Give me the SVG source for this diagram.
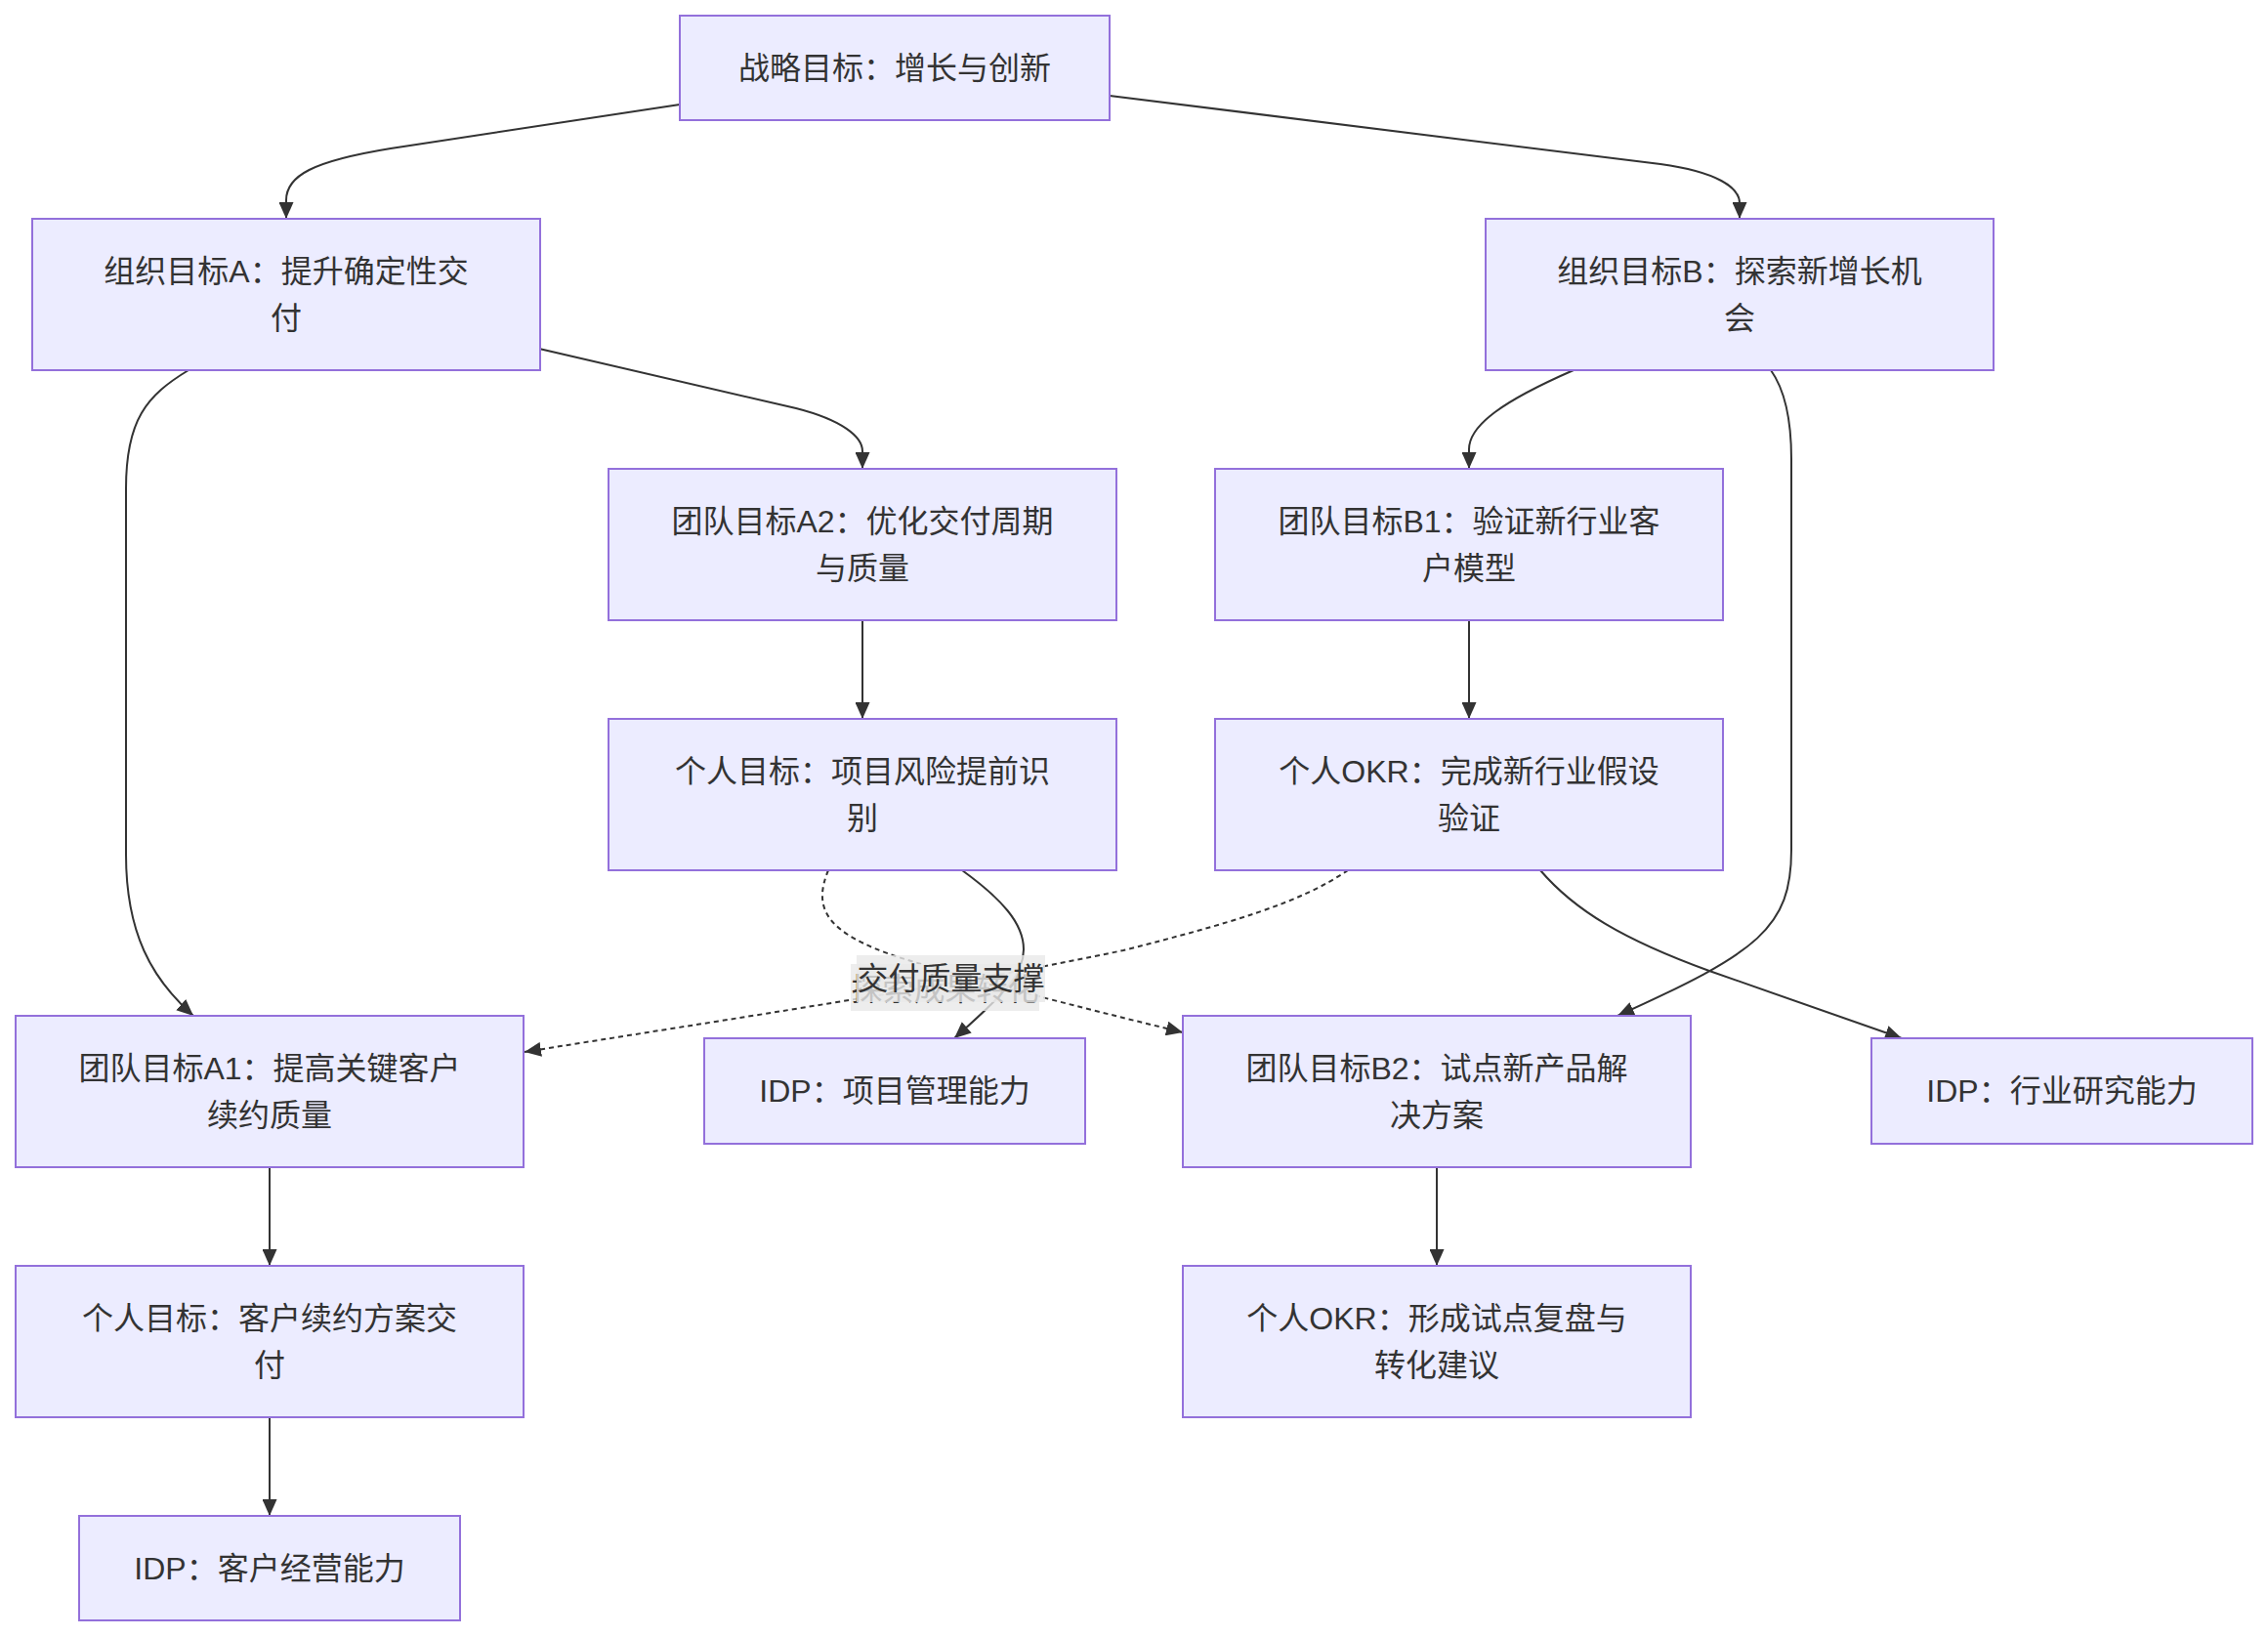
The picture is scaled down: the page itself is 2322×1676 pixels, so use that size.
<svg xmlns="http://www.w3.org/2000/svg" width="2322" height="1676" viewBox="0 0 2322 1676">
<style>
.node rect{fill:#ECECFF;stroke:#9370DB;stroke-width:2}
.node text{font-family:"Liberation Sans","Noto Sans CJK SC",sans-serif;font-size:32px;fill:#333;text-anchor:middle;dominant-baseline:central}
.edge{fill:none;stroke:#333;stroke-width:2}
.dot{stroke-dasharray:5 4}
.lbl rect{fill:rgba(232,232,232,0.8)}
.lbl text{font-family:"Liberation Sans","Noto Sans CJK SC",sans-serif;font-size:32px;fill:#333;text-anchor:middle;dominant-baseline:central}
</style>
<defs>
<marker id="arr" markerUnits="userSpaceOnUse" markerWidth="17" markerHeight="15" viewBox="0 0 17 15" refX="17" refY="7.5" orient="auto">
<path d="M0,0 L17,7.5 L0,15 z" fill="#333"/>
</marker>
</defs>
<rect width="2322" height="1676" fill="#fff"/>
<g id="connectors">
<path class="edge" marker-end="url(#arr)" d="M696,107 L400,152 C320,165 293,180 293,205 L293,224"/>
<path class="edge" marker-end="url(#arr)" d="M1136,98 L1700,168 C1758,176 1781,192 1781,208 L1781,224"/>
<path class="edge" marker-end="url(#arr)" d="M552,357 L815,418 C862,430 883,447 883,462 L883,480"/>
<path class="edge" marker-end="url(#arr)" d="M193,379 C150,405 129,430 129,500 L129,875 C129,955 155,1002 198,1040"/>
<path class="edge" marker-end="url(#arr)" d="M1611,379 C1540,410 1504,435 1504,460 L1504,480"/>
<path class="edge" marker-end="url(#arr)" d="M1813,379 C1828,400 1834,430 1834,470 L1834,870 C1834,950 1800,975 1656,1040"/>
<path class="edge" marker-end="url(#arr)" d="M883,635 L883,736"/>
<path class="edge" marker-end="url(#arr)" d="M1504,635 L1504,736"/>
<path class="edge" marker-end="url(#arr)" d="M985,891 C1025,920 1048,945 1048,972 C1048,995 1035,1012 977,1063"/>
<path class="edge dot" marker-end="url(#arr)" d="M848,891 C832,930 845,955 920,980 C990,1002 1100,1030 1211,1057"/>
<path class="edge dot" marker-end="url(#arr)" d="M1380,891 C1330,925 1260,945 1150,973 C1000,1005 800,1035 537,1077"/>
<path class="edge" marker-end="url(#arr)" d="M1577,891 C1612,932 1662,962 1750,994 L1947,1063"/>
<path class="edge" marker-end="url(#arr)" d="M276,1195 L276,1296"/>
<path class="edge" marker-end="url(#arr)" d="M276,1451 L276,1552"/>
<path class="edge" marker-end="url(#arr)" d="M1471,1195 L1471,1296"/>
</g>
<g id="edge-labels">
<g class="lbl" id="label-explore"><rect x="871" y="987" width="193" height="48"/><text x="967.5" y="1013">探索成果转化</text></g>
<g class="lbl" id="label-quality"><rect x="877" y="978" width="193" height="48"/><text x="973.5" y="1002">交付质量支撑</text></g>
</g>
<g id="strategy" class="node"><rect x="696" y="16" width="440" height="107"/><text x="916" y="69.5">战略目标：增长与创新</text></g>
<g id="orgA" class="node"><rect x="33" y="224" width="520" height="155"/><text x="293" y="278">组织目标A：提升确定性交</text><text x="293" y="326">付</text></g>
<g id="orgB" class="node"><rect x="1521" y="224" width="520" height="155"/><text x="1781" y="278">组织目标B：探索新增长机</text><text x="1781" y="326">会</text></g>
<g id="teamA2" class="node"><rect x="623" y="480" width="520" height="155"/><text x="883" y="534">团队目标A2：优化交付周期</text><text x="883" y="582">与质量</text></g>
<g id="teamB1" class="node"><rect x="1244" y="480" width="520" height="155"/><text x="1504" y="534">团队目标B1：验证新行业客</text><text x="1504" y="582">户模型</text></g>
<g id="personA2" class="node"><rect x="623" y="736" width="520" height="155"/><text x="883" y="790">个人目标：项目风险提前识</text><text x="883" y="838">别</text></g>
<g id="okrB1" class="node"><rect x="1244" y="736" width="520" height="155"/><text x="1504" y="790">个人OKR：完成新行业假设</text><text x="1504" y="838">验证</text></g>
<g id="teamA1" class="node"><rect x="16" y="1040" width="520" height="155"/><text x="276" y="1094">团队目标A1：提高关键客户</text><text x="276" y="1142">续约质量</text></g>
<g id="idpPM" class="node"><rect x="721" y="1063" width="390" height="108"/><text x="916" y="1117">IDP：项目管理能力</text></g>
<g id="teamB2" class="node"><rect x="1211" y="1040" width="520" height="155"/><text x="1471" y="1094">团队目标B2：试点新产品解</text><text x="1471" y="1142">决方案</text></g>
<g id="idpIR" class="node"><rect x="1916" y="1063" width="390" height="108"/><text x="2111" y="1117">IDP：行业研究能力</text></g>
<g id="personA1" class="node"><rect x="16" y="1296" width="520" height="155"/><text x="276" y="1350">个人目标：客户续约方案交</text><text x="276" y="1398">付</text></g>
<g id="okrB2" class="node"><rect x="1211" y="1296" width="520" height="155"/><text x="1471" y="1350">个人OKR：形成试点复盘与</text><text x="1471" y="1398">转化建议</text></g>
<g id="idpCM" class="node"><rect x="81" y="1552" width="390" height="107"/><text x="276" y="1605.5">IDP：客户经营能力</text></g>
</svg>
